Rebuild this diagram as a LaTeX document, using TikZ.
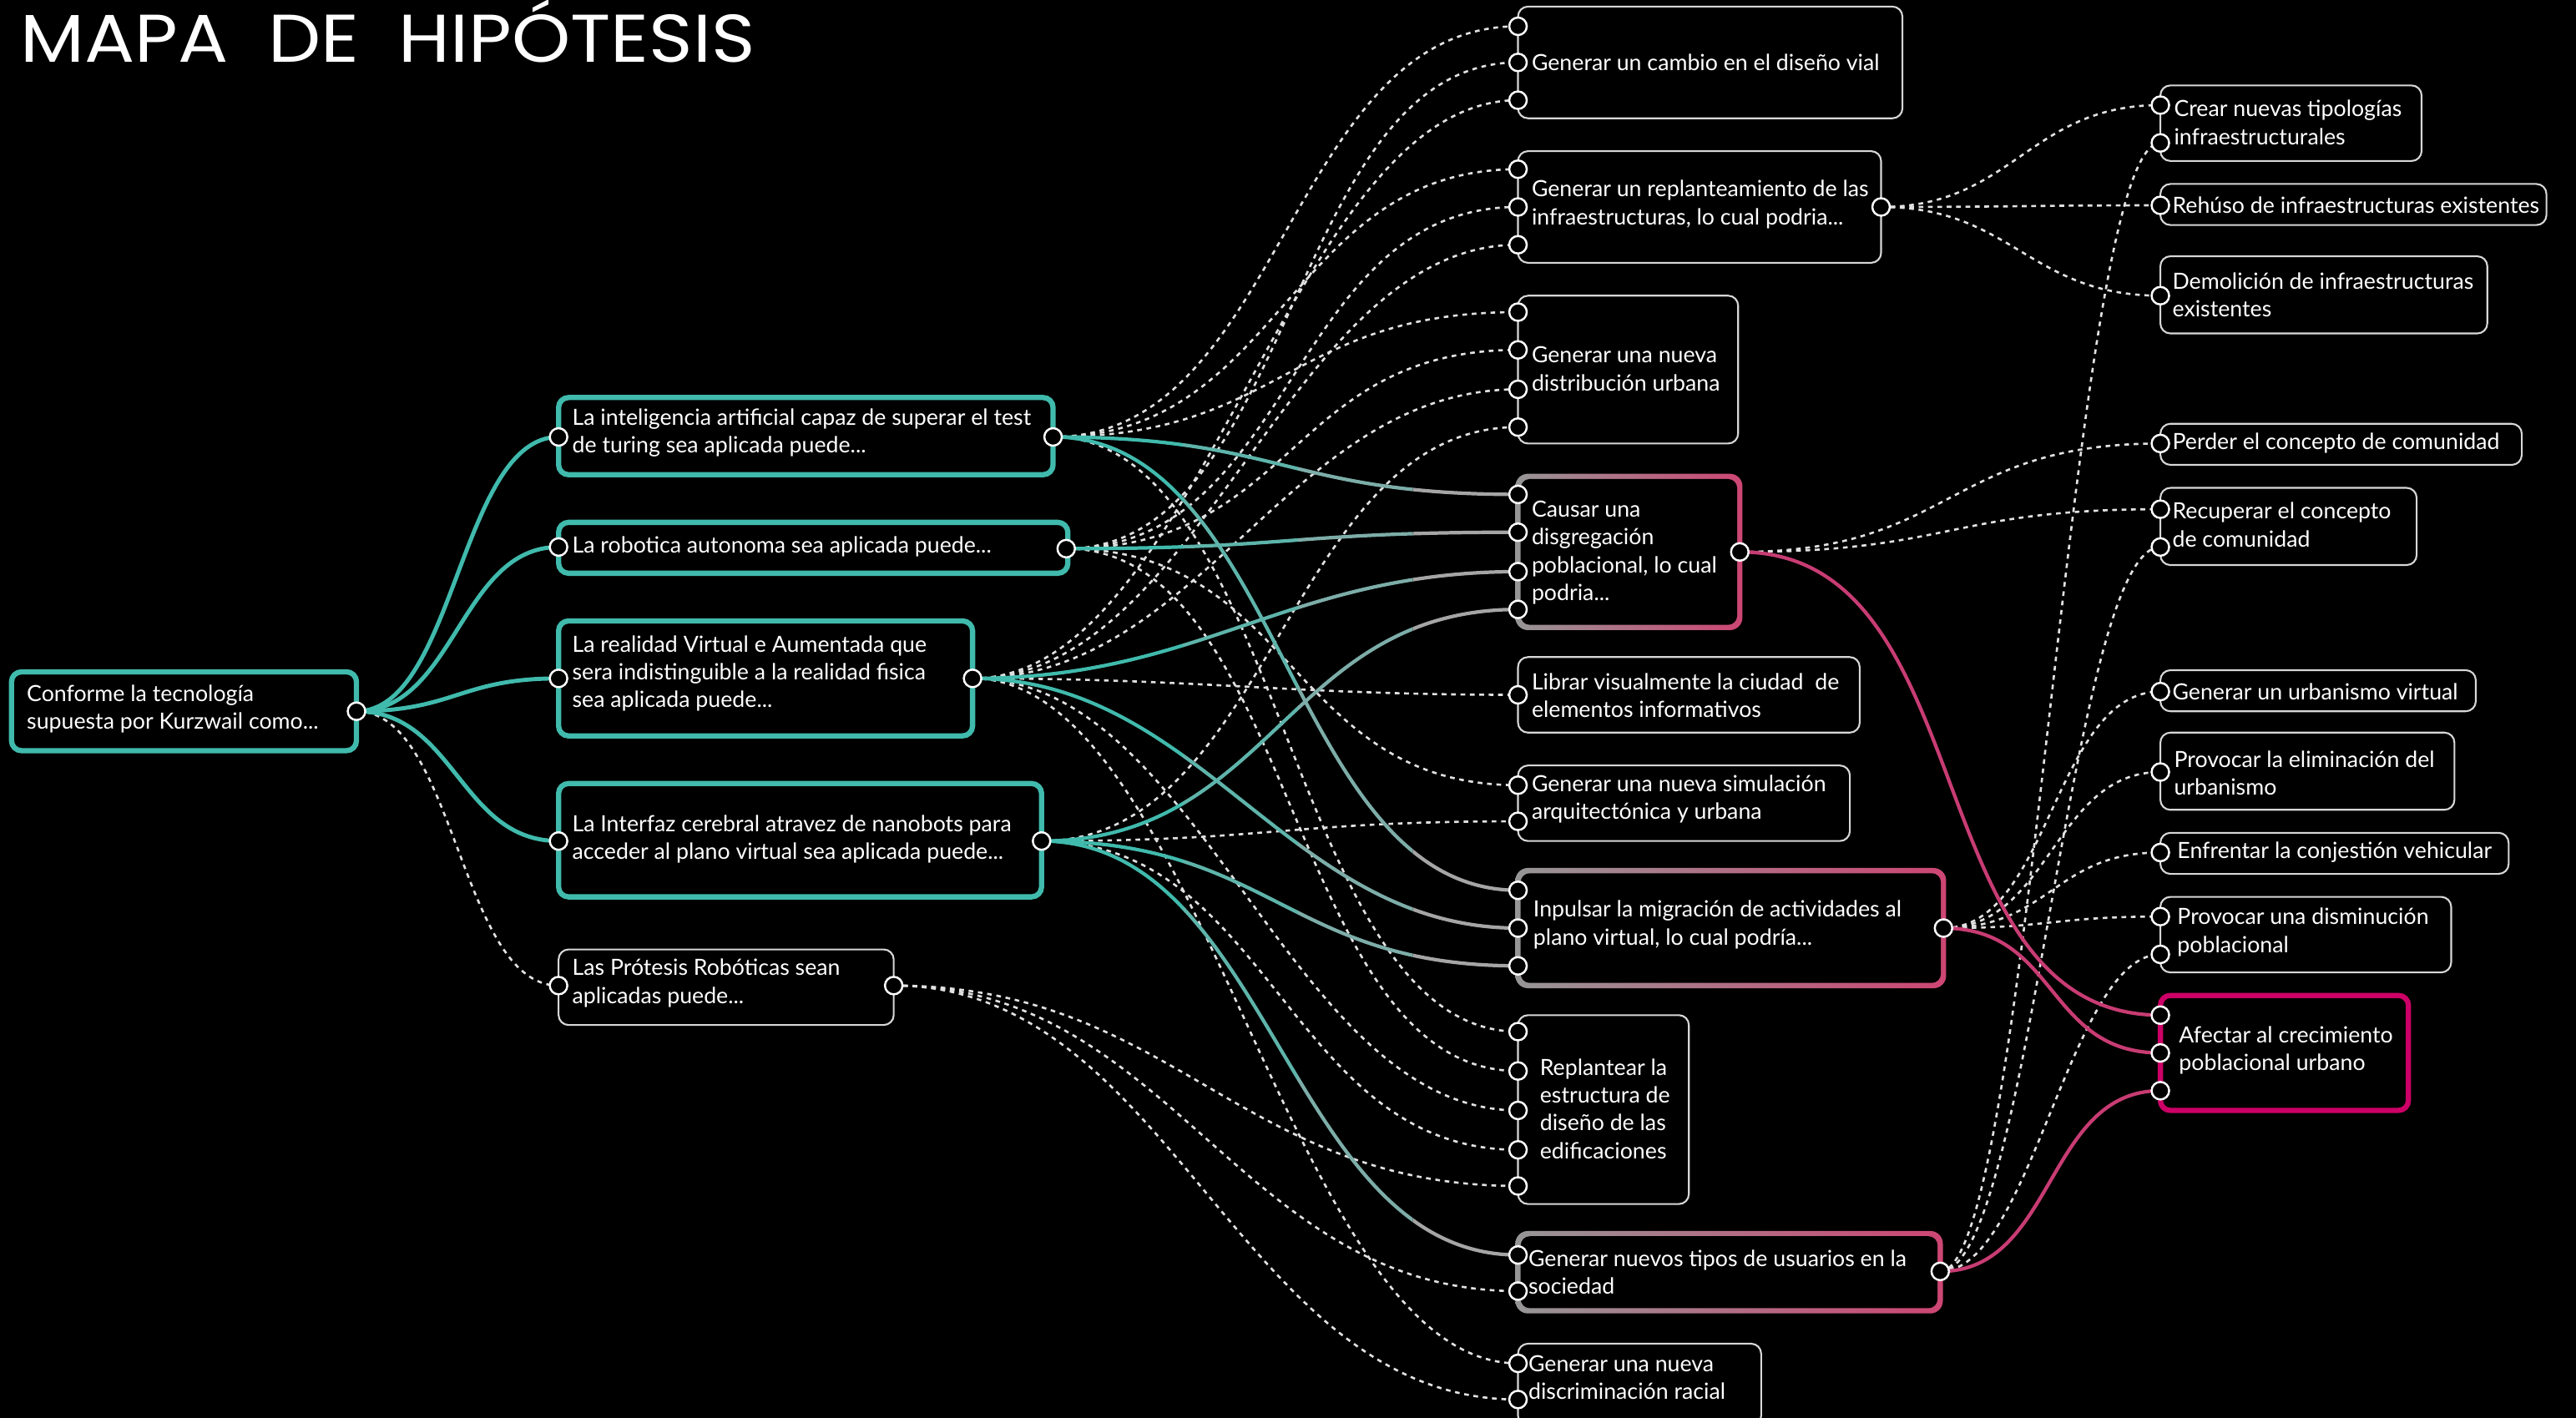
\documentclass[tikz,border=0pt]{standalone}
\usepackage{graphicx}
\usepackage{fontspec}
\setmainfont{Lato}
\newfontfamily\titlefont{Poppins}
\usetikzlibrary{calc}
\definecolor{tealc}{RGB}{64,186,172}
\definecolor{grayc}{RGB}{165,165,165}
\colorlet{tmixa}{tealc!70!grayc}
\colorlet{tmixb}{tealc!40!grayc}
\definecolor{pinkc}{RGB}{200,60,115}
\definecolor{magc}{RGB}{204,0,102}
\definecolor{gbl}{RGB}{150,150,150}
\definecolor{gbr}{RGB}{205,70,115}
\definecolor{thinc}{RGB}{215,215,215}
\definecolor{dotc}{RGB}{225,225,225}
\newcommand\tbox[4]{\draw[thinbox] (#1,#2) rectangle (#3,#4);}
\newcommand\gbox[4]{%
  \shade[left color=gbl,right color=gbr,rounded corners=1.5mm] ($(#1,#2)+(-1.6,-1.6)$) rectangle ($(#3,#4)+(1.6,1.6)$);
  \fill[black,rounded corners=1.1mm] ($(#1,#2)+(1.6,1.6)$) rectangle ($(#3,#4)-(1.6,1.6)$);}
\newcommand\gradlink[2]{%
  \foreach \xa/\xb/\gcol in {500/720/tealc,720/790/tmixa,790/860/tmixb,860/1000/grayc}{%
    \begin{scope}\clip (\xa,0) rectangle (\xb,863);
      \draw[solidl,draw=\gcol] (#1) to[hc] (#2);
    \end{scope}}}
\begin{document}
\begin{tikzpicture}[x=0.1968mm,y=-0.1968mm,
  font=\fontsize{7.6pt}{9.5pt}\selectfont,
  hc/.style={to path={.. controls ($(\tikztostart)+(#1,0)$) and ($(\tikztotarget)-(#1,0)$) .. (\tikztotarget)}},
  hc/.default=140,
  port/.style={circle,draw=white,fill=black,line width=0.7pt,minimum size=2.1mm,inner sep=0pt},
  txt/.style={anchor=west,align=left,text=white,inner sep=0pt},
  thinbox/.style={draw=thinc,fill=black,line width=0.6pt,rounded corners=1.2mm},
  tealbox/.style={draw=tealc,fill=black,line width=1.8pt,rounded corners=1.2mm},
  magbox/.style={draw=magc,fill=black,line width=1.8pt,rounded corners=1.2mm},
  dotl/.style={draw=dotc,line width=0.75pt,dash pattern=on 1.6pt off 1.6pt},
  rootl/.style={draw=tealc,line width=1.4pt},
  solidl/.style={line width=1.2pt},
  pinkl/.style={draw=pinkc,line width=1.2pt}]
\useasboundingbox (0,0) rectangle (1568,863);
\fill[black] (0,0) rectangle (1568,863);

% ---------- coordinates of ports ----------
\coordinate (r) at (217,433);
\coordinate (b1i) at (340,266); \coordinate (b1o) at (641,266);
\coordinate (b2i) at (340,333); \coordinate (b2o) at (649,334);
\coordinate (b3i) at (340,413); \coordinate (b3o) at (592,413);
\coordinate (b4i) at (340,512); \coordinate (b4o) at (634,512);
\coordinate (b5i) at (340,600); \coordinate (b5o) at (544,600);
\foreach \n/\y in {c1a/16,c1b/38,c1c/61,c2a/103,c2b/126,c2c/149,c3a/190,c3b/213,c3c/237,c3d/260,
  c4a/301,c4b/324,c4c/348,c4d/371,c5a/423,c6a/478,c6b/500,c7a/542,c7b/565,c7c/588,
  c8a/628,c8b/652,c8c/676,c8d/700,c8e/722,c9a/764,c9b/786,c10a/830,c10b/852}
  {\coordinate (\n) at (924,\y);}
\coordinate (c2o) at (1145,126);
\coordinate (c4o) at (1059,336);
\coordinate (c7o) at (1183,565);
\coordinate (c9o) at (1181,774);
\foreach \n/\y in {d1a/64,d1b/87,d2a/125,d3a/180,d4a/270,d5a/310,d5b/333,d6a/421,d7a/470,
  d8a/519,d9a/558,d9b/581,d10a/618,d10b/641,d10c/664}
  {\coordinate (\n) at (1315,\y);}

% ---------- dotted connectors ----------
\foreach \t in {c1a,c2a,c3a,c8a} {\draw[dotl] (b1o) to[hc] (\t);}
\foreach \t in {c1b,c2b,c3b,c6a,c8b} {\draw[dotl] (b2o) to[hc] (\t);}
\foreach \t in {c1c,c2c,c3c,c5a,c8c,c10a} {\draw[dotl] (b3o) to[hc] (\t);}
\foreach \t in {c3d,c6b,c8d} {\draw[dotl] (b4o) to[hc] (\t);}
\foreach \t in {c8e,c9b,c10b} {\draw[dotl] (b5o) to[hc=170] (\t);}
\draw[dotl] (r) to[hc=60] (b5i);
\foreach \t in {d1a,d2a,d3a} {\draw[dotl] (c2o) to[hc=80] (\t);}
\foreach \t in {d4a,d5a} {\draw[dotl] (c4o) to[hc=130] (\t);}
\foreach \t in {d6a,d7a,d8a,d9a} {\draw[dotl] (c7o) to[hc=65] (\t);}
\foreach \t in {d1b,d5b,d9b} {\draw[dotl] (c9o) to[hc=55] (\t);}

% ---------- solid connectors ----------
\foreach \t in {b1i,b2i,b3i,b4i} {\draw[rootl] (r) to[hc=60] (\t);}
\gradlink{b1o}{c4a}
\gradlink{b1o}{c7a}
\gradlink{b2o}{c4b}
\gradlink{b3o}{c4c}
\gradlink{b3o}{c7b}
\gradlink{b4o}{c4d}
\gradlink{b4o}{c7c}
\gradlink{b4o}{c9a}
\draw[pinkl] (c4o) to[hc=150] (d10a);
\draw[pinkl] (c7o) to[hc=70] (d10b);
\draw[pinkl] (c9o) to[hc=70] (d10c);

% ---------- boxes ----------
\draw[tealbox] (7,409) rectangle (217,457);
\draw[tealbox] (340,242) rectangle (641,289);
\draw[tealbox] (340,318) rectangle (650,349);
\draw[tealbox] (340,378) rectangle (592,448);
\draw[tealbox] (340,477) rectangle (634,546);
\tbox{340}{578}{544}{624}
\tbox{924}{4}{1158}{72}
\tbox{924}{92}{1145}{160}
\tbox{924}{180}{1058}{270}
\gbox{924}{290}{1059}{382}
\tbox{924}{400}{1132}{446}
\tbox{924}{466}{1126}{512}
\gbox{924}{530}{1183}{600}
\tbox{924}{618}{1028}{733}
\gbox{924}{751}{1181}{798}
\tbox{924}{818}{1072}{868}
\tbox{1315}{52}{1474}{98}
\tbox{1315}{112}{1550}{137}
\tbox{1315}{156}{1514}{203}
\tbox{1315}{258}{1535}{283}
\tbox{1315}{297}{1471}{344}
\tbox{1315}{408}{1507}{433}
\tbox{1315}{446}{1494}{493}
\tbox{1315}{507}{1527}{532}
\tbox{1315}{546}{1492}{592}
\draw[magbox] (1315,606) rectangle (1466,676);

% ---------- texts ----------
\node[anchor=base west,inner sep=0pt,text=white] (title) at (12,38)
  {\resizebox{88mm}{7.5mm}{\titlefont MAPA\ \ DE\ \ HIPÓTESIS}};
\node[txt] (troot) at (16,431.5) {Conforme la tecnología\\supuesta por Kurzwail como...};
\node[txt] (tb1) at (348,263.5) {La inteligencia artificial capaz de superar el test\\de turing sea aplicada puede...};
\node[txt] (tb2) at (348,333) {La robotica autonoma sea aplicada puede...};
\node[txt] (tb3) at (348,410) {La realidad Virtual e Aumentada que\\sera indistinguible a la realidad fisica\\sea aplicada puede...};
\node[txt] (tb4) at (348,511) {La Interfaz cerebral atravez de nanobots para\\acceder al plano virtual sea aplicada puede...};
\node[txt] (tb5) at (348,598.5) {Las Prótesis Robóticas sean\\aplicadas puede...};
\node[txt] (tc1) at (932,38) {Generar un cambio en el diseño vial};
\node[txt] (tc2) at (932,124.5) {Generar un replanteamiento de las\\infraestructuras, lo cual podria...};
\node[txt] (tc3) at (932,224.5) {Generar una nueva\\distribución urbana};
\node[txt] (tc4) at (932,336.5) {Causar una\\disgregación\\poblacional, lo cual\\podria...};
\node[txt] (tc5) at (932,423.5) {Librar visualmente la ciudad\ \ de\\elementos informativos};
\node[txt] (tc6) at (932,486.5) {Generar una nueva simulación\\arquitectónica y urbana};
\node[txt] (tc7) at (933,563) {Inpulsar la migración de actividades al\\plano virtual, lo cual podría...};
\node[txt] (tc8) at (937,675) {Replantear la\\estructura de\\diseño de las\\edificaciones};
\node[txt] (tc9) at (930,774.5) {Generar nuevos tipos de usuarios en la\\sociedad};
\node[txt] (tc10) at (930,838.5) {Generar una nueva\\discriminación racial};
\node[txt] (td1) at (1323,74.5) {Crear nuevas tipologías\\infraestructurales};
\node[txt] (td2) at (1322,125) {Rehúso de infraestructuras existentes};
\node[txt] (td3) at (1322,179.5) {Demolición de infraestructuras\\existentes};
\node[txt] (td4) at (1322,270) {Perder el concepto de comunidad};
\node[txt] (td5) at (1322,319.5) {Recuperar el concepto\\de comunidad};
\node[txt] (td6) at (1322,421) {Generar un urbanismo virtual};
\node[txt] (td7) at (1323,470.5) {Provocar la eliminación del\\urbanismo};
\node[txt] (td8) at (1325,519) {Enfrentar la conjestión vehicular};
\node[txt] (td9) at (1325,567.5) {Provocar una disminución\\poblacional};
\node[txt] (td10) at (1326,639.5) {Afectar al crecimiento\\poblacional urbano};

% ---------- ports ----------
\foreach \n in {r,b1i,b1o,b2i,b2o,b3i,b3o,b4i,b4o,b5i,b5o,
  c1a,c1b,c1c,c2a,c2b,c2c,c2o,c3a,c3b,c3c,c3d,c4a,c4b,c4c,c4d,c4o,c5a,c6a,c6b,
  c7a,c7b,c7c,c7o,c8a,c8b,c8c,c8d,c8e,c9a,c9b,c9o,c10a,c10b,
  d1a,d1b,d2a,d3a,d4a,d5a,d5b,d6a,d7a,d8a,d9a,d9b,d10a,d10b,d10c}
  {\node[port] (p-\n) at (\n) {};}
\end{tikzpicture}
\end{document}
